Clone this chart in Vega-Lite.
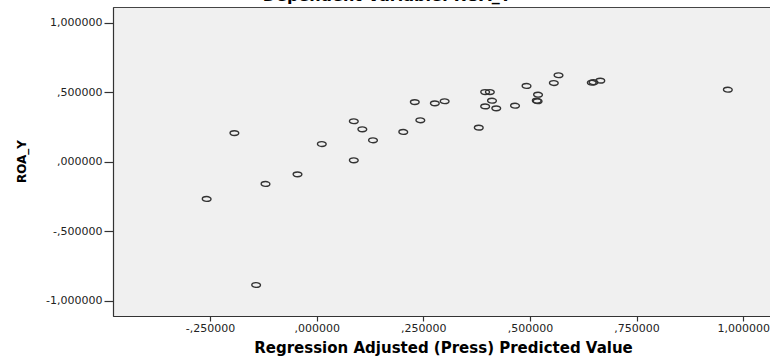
{
  "$schema": "https://vega.github.io/schema/vega-lite/v6.json",
  "autosize": {"type": "none"},
  "padding": {"left": 113, "top": 7, "right": 0, "bottom": 40},
  "width": 660,
  "height": 309,
  "background": "white",
  "title": {
    "text": "Dependent Variable: ROA_Y",
    "font": "DejaVu Sans",
    "fontWeight": "bold",
    "fontSize": 16,
    "color": "#000000",
    "anchor": "middle",
    "baseline": "alphabetic",
    "offset": 0,
    "dy": 10,
    "dx": -56
  },
  "config": {
    "view": {"fill": "#f0f0f0", "stroke": "#444444", "strokeWidth": 1},
    "axis": {
      "grid": false,
      "domainColor": "#333333",
      "domainWidth": 1.2,
      "tickColor": "#333333",
      "tickWidth": 1.2,
      "labelFont": "DejaVu Sans",
      "labelFontSize": 11,
      "labelColor": "#222222",
      "titleFont": "DejaVu Sans",
      "titleFontWeight": "bold",
      "titleColor": "#000000"
    }
  },
  "data": {
    "values": [
      {"pred": -0.258, "roa": -0.268},
      {"pred": -0.193, "roa": 0.206},
      {"pred": -0.120, "roa": -0.160},
      {"pred": -0.142, "roa": -0.887},
      {"pred": -0.045, "roa": -0.091},
      {"pred": 0.012, "roa": 0.127},
      {"pred": 0.087, "roa": 0.010},
      {"pred": 0.087, "roa": 0.291},
      {"pred": 0.107, "roa": 0.233},
      {"pred": 0.132, "roa": 0.154},
      {"pred": 0.203, "roa": 0.214},
      {"pred": 0.230, "roa": 0.429},
      {"pred": 0.243, "roa": 0.298},
      {"pred": 0.277, "roa": 0.420},
      {"pred": 0.300, "roa": 0.435},
      {"pred": 0.380, "roa": 0.245},
      {"pred": 0.395, "roa": 0.501},
      {"pred": 0.406, "roa": 0.501},
      {"pred": 0.411, "roa": 0.439},
      {"pred": 0.395, "roa": 0.398},
      {"pred": 0.421, "roa": 0.384},
      {"pred": 0.465, "roa": 0.403},
      {"pred": 0.492, "roa": 0.545},
      {"pred": 0.519, "roa": 0.482},
      {"pred": 0.516, "roa": 0.439},
      {"pred": 0.518, "roa": 0.435},
      {"pred": 0.556, "roa": 0.566},
      {"pred": 0.567, "roa": 0.622},
      {"pred": 0.645, "roa": 0.568},
      {"pred": 0.649, "roa": 0.572},
      {"pred": 0.665, "roa": 0.583},
      {"pred": 0.964, "roa": 0.518}
    ]
  },
  "mark": {
    "type": "point",
    "shape": "M-1,0A1,0.55 0 1,0 1,0A1,0.55 0 1,0 -1,0Z",
    "size": 76,
    "filled": false,
    "color": "#333333",
    "strokeWidth": 1.4,
    "opacity": 1,
    "clip": true
  },
  "encoding": {
    "x": {
      "field": "pred",
      "type": "quantitative",
      "scale": {"domain": [-0.4776, 1.0699], "nice": false, "zero": false},
      "axis": {
        "title": "Regression Adjusted (Press) Predicted Value",
        "titleFontSize": 15,
        "titleBaseline": "alphabetic",
        "titleY": 36.5,
        "values": [-0.25, 0, 0.25, 0.5, 0.75, 1],
        "tickSize": 5,
        "labelPadding": 1,
        "labelExpr": "(datum.value < 0 ? '-' : '') + replace(replace(format(abs(datum.value), '.6f'), '0.', ','), '.', ',')"
      }
    },
    "y": {
      "field": "roa",
      "type": "quantitative",
      "scale": {"domain": [-1.110, 1.113], "nice": false, "zero": false},
      "axis": {
        "title": "ROA_Y",
        "titleFontSize": 12,
        "titleBaseline": "alphabetic",
        "titleAngle": -90,
        "titleX": -88,
        "titleY": 154,
        "values": [-1, -0.5, 0, 0.5, 1],
        "tickSize": 9,
        "labelPadding": 2,
        "labelExpr": "(datum.value < 0 ? '-' : '') + replace(replace(format(abs(datum.value), '.6f'), '0.', ','), '.', ',')"
      }
    }
  }
}
